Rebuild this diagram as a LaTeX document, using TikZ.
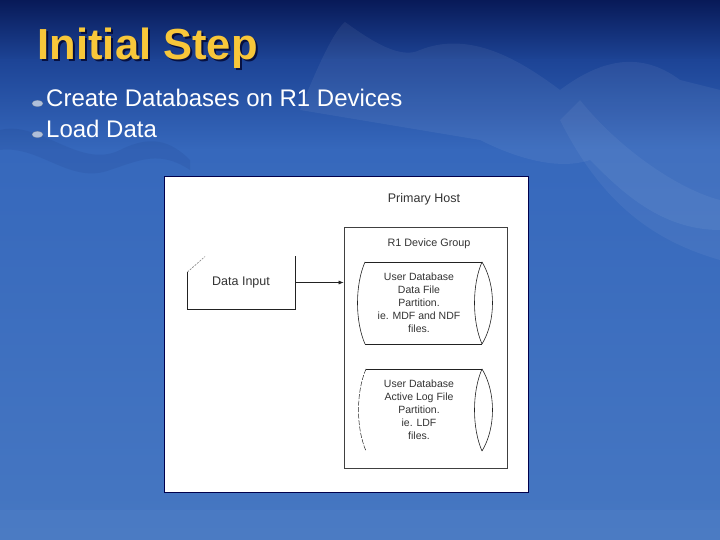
\documentclass[tikz,border=0pt]{standalone}
\usepackage{fontspec}
\setmainfont{Liberation Sans}
\usetikzlibrary{arrows.meta,shapes.geometric}
\definecolor{bgtop}{HTML}{081A58}
\definecolor{bgtoptwo}{HTML}{1D4496}
\definecolor{bgmid}{HTML}{3668BC}
\definecolor{bglow}{HTML}{4677C2}
\definecolor{titlecol}{HTML}{F8C73A}
\definecolor{diagtext}{HTML}{333333}
\definecolor{diagline}{HTML}{222222}
\definecolor{bulletcol}{HTML}{AFBFDA}
\tikzset{
  dtext/.style={font=\fontsize{10.5}{13}\selectfont, text=diagtext, align=center, inner sep=0pt},
  dbig/.style={font=\fontsize{12.5}{15}\selectfont, text=diagtext, inner sep=0pt},
  dline/.style={draw=diagline, line width=0.6pt},
  bullettext/.style={font=\fontsize{24}{28}\selectfont, text=white, anchor=base west, inner sep=0pt},
  bulletmark/.style={ellipse, fill=bulletcol, draw=bulletcol!70!black, line width=0.2pt, minimum width=11pt, minimum height=6.5pt, inner sep=0pt},
  invis/.style={draw=none, inner sep=0pt}
}
\begin{document}
\begin{tikzpicture}[x=1pt,y=-1pt]
\useasboundingbox (0,0) rectangle (720,540);
% background
\shade[top color=bgtop, bottom color=bgtoptwo] (0,0) rectangle (720,60.5);
\shade[top color=bgtoptwo, bottom color=bgmid] (0,60) rectangle (720,150.5);
\shade[top color=bgmid, bottom color=bglow] (0,150) rectangle (720,540);
% faint mountain shapes
\fill[white, opacity=0.06] (300,110) .. controls (320,60) and (335,30) .. (345,22) .. controls (370,40) and (400,60) .. (420,50) .. controls (470,30) and (520,60) .. (560,90) .. controls (600,60) and (640,50) .. (680,80) -- (720,90) -- (720,230) .. controls (660,230) and (620,190) .. (590,160) .. controls (560,170) and (520,160) .. (480,140) -- cycle;
\fill[white, opacity=0.05] (560,120) .. controls (600,200) and (650,240) .. (720,260) -- (720,200) .. controls (680,190) and (620,150) .. (580,100) -- cycle;
\fill[bgtop, opacity=0.08] (0,130) .. controls (40,120) and (80,170) .. (120,150) .. controls (150,135) and (170,140) .. (190,160) -- (190,170) .. controls (160,150) and (140,160) .. (110,170) .. controls (70,185) and (40,145) .. (0,150) -- cycle;
\fill[white, opacity=0.03] (0,510) rectangle (720,540);
% title
\node[anchor=base west, inner sep=0pt, text=black!85!blue, opacity=0.75, font=\bfseries\fontsize{43.5}{50}\selectfont] (titleshadow) at (39.5,62) {Initial Step};
\node[anchor=base west, inner sep=0pt, text=titlecol, font=\bfseries\fontsize{43.5}{50}\selectfont] (title) at (37.5,60) {Initial Step};
% bullets
\node[bulletmark] (b1) at (37.5,103.5) {};
\node[bulletmark] (b2) at (37.5,134.5) {};
\node[bullettext] (t1) at (46,107) {Create Databases on R1 Devices};
\node[bullettext] (t2) at (46,138) {Load Data};
% diagram panel
\fill[white, draw=black!70!blue, line width=0.8pt] (164,176) rectangle (528,492);
\node[dbig] (host) at (424,199) {Primary Host};
% R1 device group
\node[draw=black!75, line width=0.7pt, minimum width=163pt, minimum height=241pt, inner sep=0pt] (grp) at (425.5,347.5) {};
\node[dtext, font=\fontsize{10.8}{13}\selectfont] (grplabel) at (429,244) {R1 Device Group};
% data input (manual input shape)
\node[invis, minimum width=108pt, minimum height=53pt] (din) at (241,282.5) {};
\draw[dline] (187.5,272) -- (187.5,309) -- (295,309) -- (295,256);
\draw[draw=gray, line width=0.6pt, dash pattern=on 2pt off 1.2pt] (187.5,272) -- (205,256.5);
\node[dbig] (dinlabel) at (241,282) {Data Input};
\draw[dline, -{Latex[length=5pt,width=4pt]}] (din.east) -- (din.east -| grp.west);
% cylinder 1
\node[invis, minimum width=128pt, minimum height=82pt] (cyl1) at (424,303) {};
\draw[dline] (365,262) .. controls (355,285) and (355,321) .. (365,344);
\draw[dline] (365,262) -- (482,262);
\draw[dline] (365,344) -- (482,344);
\draw[dline] (482,262) .. controls (472,285) and (472,321) .. (482,344);
\draw[dline] (482,262) .. controls (496,285) and (496,321) .. (482,344);
\node[dtext] (cyl1text) at (419,303) {User Database\\Data File\\Partition.\\ie. MDF and NDF\\files.};
% cylinder 2
\node[invis, minimum width=128pt, minimum height=82pt] (cyl2) at (424,410) {};
\draw[draw=diagline, line width=0.5pt, dash pattern=on 5pt off 1.5pt] (366,369) .. controls (356,392) and (356,428) .. (366,451);
\draw[dline] (366,369) -- (482,369);
\draw[dline] (482,369) .. controls (472,392) and (472,428) .. (482,451);
\draw[dline] (482,369) .. controls (496,392) and (496,428) .. (482,451);
\node[dtext] (cyl2text) at (419,410) {User Database\\Active Log File\\Partition.\\ie. LDF\\files.};
\end{tikzpicture}
\end{document}
